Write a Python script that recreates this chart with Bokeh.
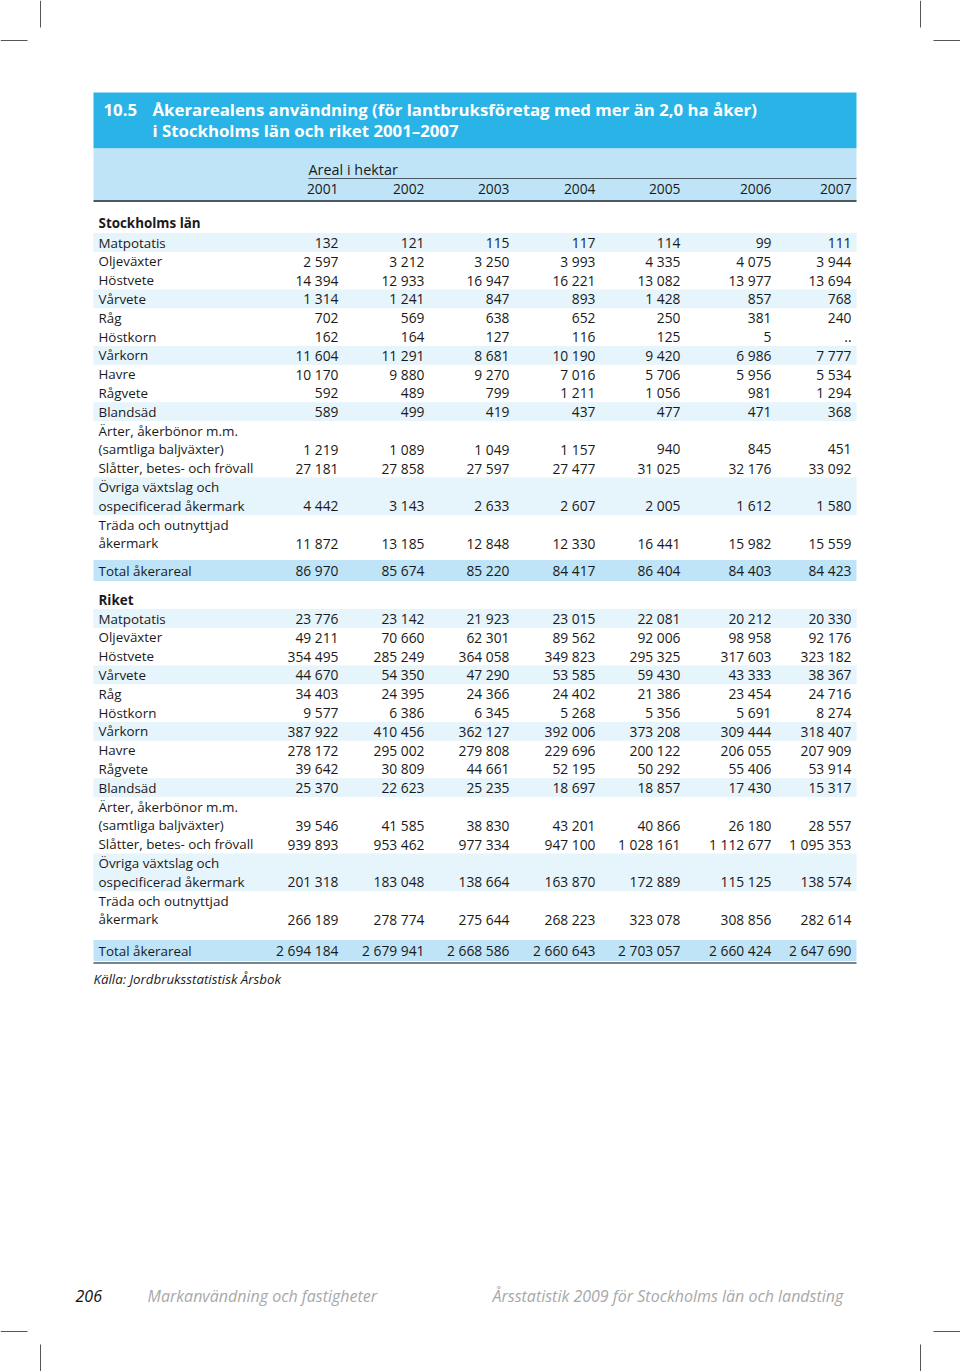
from bokeh.plotting import figure
from bokeh.models import Range1d, ColumnDataSource
from bokeh.core.properties import value
from bokeh.embed import file_html
from bokeh.resources import INLINE

# ---------------- data ----------------
title_num = "10.5"
title_lines = ["Åkerarealens användning (för lantbruksföretag med mer än 2,0 ha åker)",
               "i Stockholms län och riket 2001–2007"]
unit_label = "Areal i hektar"
years = ["2001", "2002", "2003", "2004", "2005", "2006", "2007"]

crops = [["Matpotatis"], ["Oljeväxter"], ["Höstvete"], ["Vårvete"], ["Råg"], ["Höstkorn"],
         ["Vårkorn"], ["Havre"], ["Rågvete"], ["Blandsäd"],
         ["Ärter, åkerbönor m.m.", "(samtliga baljväxter)"],
         ["Slåtter, betes- och frövall"],
         ["Övriga växtslag och", "ospecificerad åkermark"],
         ["Träda och outnyttjad", "åkermark"]]
total_label = "Total åkerareal"

sthlm_label = "Stockholms län"
sthlm_matpotatis = [132, 121, 115, 117, 114, 99, 111]
sthlm_oljevaxter = [2597, 3212, 3250, 3993, 4335, 4075, 3944]
sthlm_hostvete = [14394, 12933, 16947, 16221, 13082, 13977, 13694]
sthlm_varvete = [1314, 1241, 847, 893, 1428, 857, 768]
sthlm_rag = [702, 569, 638, 652, 250, 381, 240]
sthlm_hostkorn = [162, 164, 127, 116, 125, 5, ".."]
sthlm_varkorn = [11604, 11291, 8681, 10190, 9420, 6986, 7777]
sthlm_havre = [10170, 9880, 9270, 7016, 5706, 5956, 5534]
sthlm_ragvete = [592, 489, 799, 1211, 1056, 981, 1294]
sthlm_blandsad = [589, 499, 419, 437, 477, 471, 368]
sthlm_arter = [1219, 1089, 1049, 1157, 940, 845, 451]
sthlm_slatter = [27181, 27858, 27597, 27477, 31025, 32176, 33092]
sthlm_ovriga = [4442, 3143, 2633, 2607, 2005, 1612, 1580]
sthlm_trada = [11872, 13185, 12848, 12330, 16441, 15982, 15559]
sthlm_total = [86970, 85674, 85220, 84417, 86404, 84403, 84423]

riket_label = "Riket"
riket_matpotatis = [23776, 23142, 21923, 23015, 22081, 20212, 20330]
riket_oljevaxter = [49211, 70660, 62301, 89562, 92006, 98958, 92176]
riket_hostvete = [354495, 285249, 364058, 349823, 295325, 317603, 323182]
riket_varvete = [44670, 54350, 47290, 53585, 59430, 43333, 38367]
riket_rag = [34403, 24395, 24366, 24402, 21386, 23454, 24716]
riket_hostkorn = [9577, 6386, 6345, 5268, 5356, 5691, 8274]
riket_varkorn = [387922, 410456, 362127, 392006, 373208, 309444, 318407]
riket_havre = [278172, 295002, 279808, 229696, 200122, 206055, 207909]
riket_ragvete = [39642, 30809, 44661, 52195, 50292, 55406, 53914]
riket_blandsad = [25370, 22623, 25235, 18697, 18857, 17430, 15317]
riket_arter = [39546, 41585, 38830, 43201, 40866, 26180, 28557]
riket_slatter = [939893, 953462, 977334, 947100, 1028161, 1112677, 1095353]
riket_ovriga = [201318, 183048, 138664, 163870, 172889, 115125, 138574]
riket_trada = [266189, 278774, 275644, 268223, 323078, 308856, 282614]
riket_total = [2694184, 2679941, 2668586, 2660643, 2703057, 2660424, 2647690]

source_note = "Källa: Jordbruksstatistisk Årsbok"
page_number = "206"
footer_left = "Markanvändning och fastigheter"
footer_right = "Årsstatistik 2009 för Stockholms län och landsting"

sthlm_rows = [sthlm_matpotatis, sthlm_oljevaxter, sthlm_hostvete, sthlm_varvete, sthlm_rag,
              sthlm_hostkorn, sthlm_varkorn, sthlm_havre, sthlm_ragvete, sthlm_blandsad,
              sthlm_arter, sthlm_slatter, sthlm_ovriga, sthlm_trada]
riket_rows = [riket_matpotatis, riket_oljevaxter, riket_hostvete, riket_varvete, riket_rag,
              riket_hostkorn, riket_varkorn, riket_havre, riket_ragvete, riket_blandsad,
              riket_arter, riket_slatter, riket_ovriga, riket_trada]

# ---------------- layout / style ----------------
W, H = 960, 1371
FONT = "Open Sans"
LABEL_SIZE = "13.4px"
NUM_SIZE = "13.8px"
DARK_BLUE = "#2ab3e6"
MID_BLUE = "#bfe4f7"
LIGHT_BLUE = "#e6f4fc"
RULE = "#4b5963"
LEFT, RIGHT = 93, 856
LABEL_X = 98
COL_RIGHT = [338, 424, 509, 595, 680, 771, 851]
STEP = 18.8


def fmt(v):
    if isinstance(v, str):
        return v
    return f"{v:,}".replace(",", " ")


p = figure(width=W, height=H, output_backend="svg", toolbar_location=None,
           x_range=Range1d(0, W), y_range=Range1d(H, 0),
           x_axis_location=None, y_axis_location=None, min_border=0)
p.grid.visible = False
p.outline_line_color = None
p.background_fill_color = "white"
p.border_fill_color = "white"

quads = dict(left=[], right=[], top=[], bottom=[], color=[])
texts = {}


def add_text(key, x, y, t):
    d = texts.setdefault(key, dict(x=[], y=[], text=[]))
    d["x"].append(x)
    d["y"].append(y)
    d["text"].append(t)


def add_quad(l, r, t, b, c):
    quads["left"].append(l); quads["right"].append(r)
    quads["top"].append(t); quads["bottom"].append(b)
    quads["color"].append(c)


# title band
add_quad(LEFT, RIGHT, 92, 148, DARK_BLUE)
add_text("title", 103, 109, title_num)
add_text("title", 152, 109, title_lines[0])
add_text("title", 152, 130, title_lines[1])
# header band
add_quad(LEFT, RIGHT, 148, 200, MID_BLUE)
add_text("unit", 308, 169, unit_label)
for x, yr in zip(COL_RIGHT, years):
    add_text("num", x, 188, yr)


def section(name, y_head, y_first, rows, total, total_y):
    add_text("bold", LABEL_X, y_head, name)
    y = y_first
    for i, (lab, vals) in enumerate(zip(crops, rows)):
        n = len(lab)
        if i % 3 == 0:
            add_quad(LEFT, RIGHT, y - STEP / 2, y + (n - 1) * STEP + STEP / 2, LIGHT_BLUE)
        for k, line in enumerate(lab):
            add_text("label", LABEL_X, y + k * STEP, line)
        yv = y + (n - 1) * STEP
        for x, v in zip(COL_RIGHT, vals):
            add_text("num", x, yv, fmt(v))
        y += n * STEP
    add_quad(LEFT, RIGHT, total_y - 10.5, total_y + 10.5, MID_BLUE)
    add_text("label", LABEL_X, total_y, total_label)
    for x, v in zip(COL_RIGHT, total):
        add_text("num", x, total_y, fmt(v))


section(sthlm_label, 222, 242, sthlm_rows, sthlm_total, 570)
section(riket_label, 599, 618, riket_rows, riket_total, 950)

p.quad(left="left", right="right", top="top", bottom="bottom", color="color",
       line_color=None, source=ColumnDataSource(quads))

# rules
p.segment(x0=[308, LEFT, LEFT], x1=[RIGHT, RIGHT, RIGHT], y0=[178, 200.5, 962.5],
          y1=[178, 200.5, 962.5], line_color=RULE, line_width=[1, 2, 1.6])

# crop marks
p.segment(x0=[40, 0, 920, 933, 40, 0, 920, 933],
          x1=[40, 27, 920, 960, 40, 27, 920, 960],
          y0=[0, 40, 0, 40, 1344, 1331, 1344, 1331],
          y1=[27, 40, 27, 40, 1371, 1331, 1371, 1331],
          line_color="#555555", line_width=1)

add_text("note", 93, 978, source_note)
add_text("page", 75, 1295, page_number)
add_text("foot", 147, 1295, footer_left)
add_text("foot", 492, 1295, footer_right)

styles = {
    "title": dict(text_color="white", text_font_size="16.8px", text_font_style="bold", text_align="left"),
    "unit": dict(text_color="#1a1a1a", text_font_size="14.4px", text_align="left"),
    "label": dict(text_color="#1a1a1a", text_font_size=LABEL_SIZE, text_align="left"),
    "bold": dict(text_color="#1a1a1a", text_font_size=LABEL_SIZE, text_font_style="bold", text_align="left"),
    "num": dict(text_color="#1a1a1a", text_font_size=NUM_SIZE, text_align="right"),
    "note": dict(text_color="#1a1a1a", text_font_size="13.3px", text_font_style="italic", text_align="left"),
    "page": dict(text_color="#111111", text_font_size="16px", text_font_style="italic", text_align="left"),
    "foot": dict(text_color="#a8a8a8", text_font_size="16px", text_font_style="italic", text_align="left"),
}
for key, d in texts.items():
    p.text(x="x", y="y", text="text", source=ColumnDataSource(d),
           text_font=value(FONT), text_baseline="middle", **styles[key])

open("out.html", "w").write(file_html(p, INLINE))
